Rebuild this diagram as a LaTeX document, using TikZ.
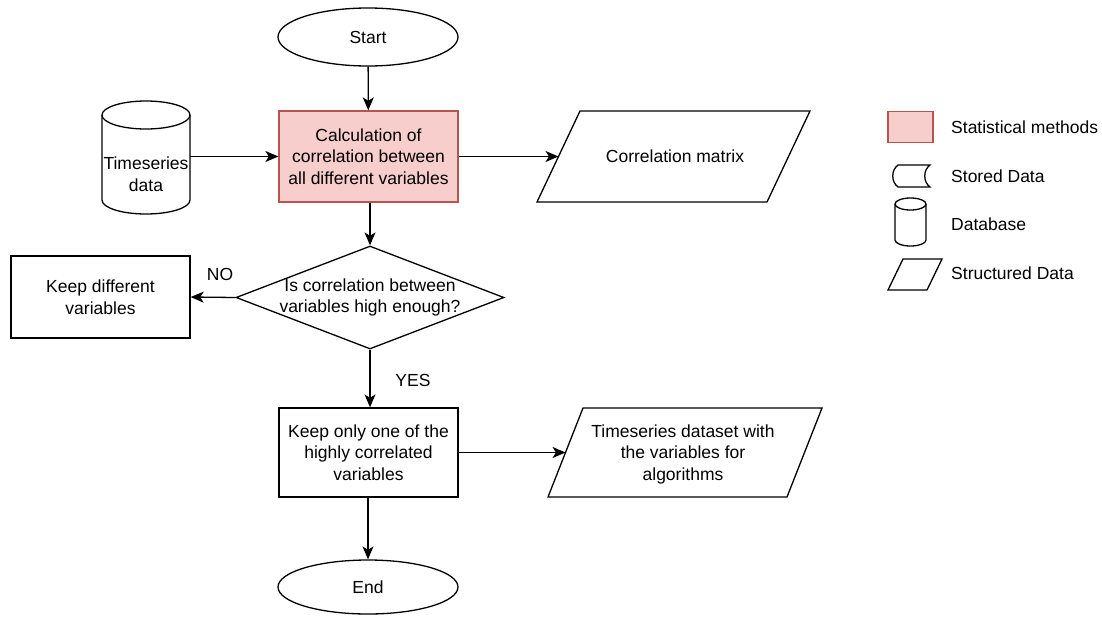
\documentclass[tikz,border=0pt]{standalone}
\usepackage{fontspec}
\setmainfont{Liberation Sans}
\usetikzlibrary{arrows.meta,shapes.geometric}
\definecolor{statfill}{HTML}{F8CECC}
\definecolor{statdraw}{HTML}{B85450}
\begin{document}
\begin{tikzpicture}[x=1pt,y=-1pt,
  every node/.style={font=\fontsize{17.5}{21.5}\selectfont, text=black},
  line/.style={line width=1.3pt},
  arrow/.style={line, -{Stealth[length=13pt,width=11pt,inset=3.5pt]}},
  terminal/.style={ellipse, draw, line, minimum width=180pt, inner sep=0pt},
  process/.style={rectangle, draw, line, minimum width=179pt, inner sep=0pt, align=center},
  stat/.style={process, fill=statfill, draw=statdraw},
  decision/.style={diamond, draw, line, aspect=2.6, minimum width=268pt, minimum height=103pt, inner sep=0pt},
  txt/.style={align=center, inner sep=0pt},
  legendtxt/.style={anchor=west, inner sep=0pt}
]
\useasboundingbox (0,0) rectangle (1102,616);

% --- flow: terminals and processes ---
\node[terminal, minimum height=58pt] (start) at (368,37) {Start};
\node[stat, minimum height=91pt] (calc) at (368.5,156.5)
  {Calculation of\\correlation between\\all different variables};
\node[decision] (q) at (370,297.5) {};
\node[txt] (qtext) at (q.center) {Is correlation between\\variables high enough?};
\node[process, minimum height=82pt] (keepdiff) at (100.5,297) {Keep different\\variables};
\node[process, minimum height=89pt] (keep) at (368.5,452.5)
  {Keep only one of the\\highly correlated\\variables};
\node[terminal, minimum height=54pt] (end) at (368,587) {End};

% --- database cylinder (y axis points down, so angle 90 is at the bottom) ---
\node[minimum width=88pt, minimum height=113pt, inner sep=0pt] (db) at (146,157.5) {};
\draw[line, fill=white] (102,115) -- (102,200) arc[start angle=180, end angle=0, x radius=44, y radius=14] -- (190,115);
\draw[line] (146,115) ellipse[x radius=44, y radius=14];
\node[txt] (dbtext) at (146,174) {Timeseries\\data};

% --- structured data outputs ---
\draw[line] (537,202) -- (580,111) -- (810,111) -- (767,202) -- cycle;
\node[txt] (cm) at (675,156) {Correlation matrix};
\coordinate (cmin) at (558.5,156.5);

\draw[line] (548,497) -- (583,408) -- (822,408) -- (787,497) -- cycle;
\node[txt] (ts) at (683,454) {Timeseries dataset with\\the variables for\\algorithms};
\coordinate (tsin) at (565.5,452.5);

% --- connectors ---
\draw[arrow] (start) -- (calc);
\draw[arrow] (db.east |- calc.west) -- (calc.west);
\draw[arrow] (calc.east) -- (cmin);
\draw[arrow] (calc.south -| q.north) -- (q.north);
\draw[arrow] (q.west) -- (keepdiff.east);
\draw[arrow] (q.south) -- (q.south |- keep.north);
\draw[arrow] (keep.east) -- (tsin);
\draw[arrow] (keep.south -| end.north) -- (end.north);

\node[txt] (no) at (220,274) {NO};
\node[txt] (yes) at (413,380) {YES};

% --- legend ---
\node[rectangle, draw=statdraw, fill=statfill, line, minimum width=45pt, minimum height=31pt, inner sep=0pt] (lg1) at (910.5,127) {};
\node[legendtxt] (lt1) at (951,127) {Statistical methods};

\draw[line] (898,165) -- (930,165) .. controls (923,170) and (923,182) .. (930,187)
  -- (898,187) .. controls (891,182) and (891,170) .. (898,165) -- cycle;
\node[legendtxt] (lt2) at (951,176) {Stored Data};

\draw[line] (895,204) -- (895,240) arc[start angle=180, end angle=0, x radius=15.5, y radius=6] -- (926,204);
\draw[line] (910.5,204) ellipse[x radius=15.5, y radius=6];
\node[legendtxt] (lt3) at (951,224) {Database};

\draw[line] (888,290) -- (903,259) -- (942,259) -- (927,290) -- cycle;
\node[legendtxt] (lt4) at (951,273) {Structured Data};
\end{tikzpicture}
\end{document}
